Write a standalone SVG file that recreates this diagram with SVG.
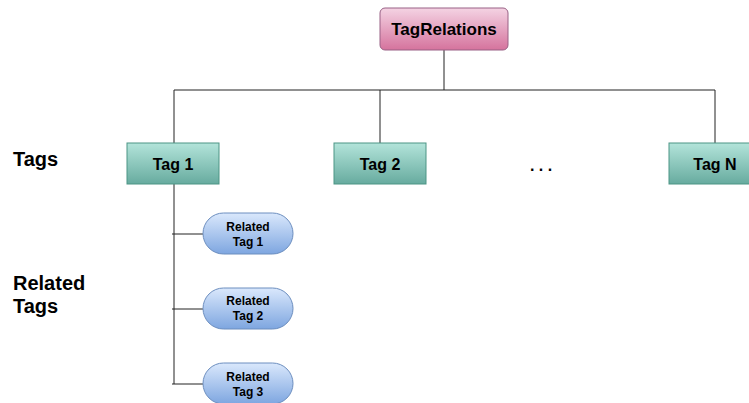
<svg xmlns="http://www.w3.org/2000/svg" width="749" height="403" viewBox="0 0 749 403">
<defs>
<linearGradient id="gPink" x1="0" y1="0" x2="0" y2="1"><stop offset="0" stop-color="#f4d3e3"/><stop offset="1" stop-color="#d5739d"/></linearGradient>
<linearGradient id="gTeal" x1="0" y1="0" x2="0" y2="1"><stop offset="0" stop-color="#b3e4da"/><stop offset="1" stop-color="#67ab9f"/></linearGradient>
<linearGradient id="gBlue" x1="0" y1="0" x2="0" y2="1"><stop offset="0" stop-color="#dae8fc"/><stop offset="1" stop-color="#7ea6e0"/></linearGradient>
</defs>
<style>
text{font-family:"Liberation Sans",Arial,sans-serif;font-weight:bold;fill:#000}
.line{stroke:#222;stroke-width:1;fill:none}
.tag{fill:url(#gTeal);stroke:#4d9585;stroke-width:1}
.rel{fill:url(#gBlue);stroke:#6c8ebf;stroke-width:1}
.t16{font-size:16px;text-anchor:middle}
.t12{font-size:12px;text-anchor:middle}
.lab{font-size:20px}
</style>
<rect width="749" height="403" fill="#fff"/>
<g id="connectors">
<path class="line" d="M444 50V90M174 90H715M174 90V143M380 90V143M715 90V143"/>
<path class="line" d="M174 184V384M172 234H203M172 309H203M172 384H203"/>
</g>
<g id="tagrelations">
<rect x="380" y="8" width="128" height="42" rx="5" fill="url(#gPink)" stroke="#996185"/>
<text x="444" y="35" style="font-size:17px;text-anchor:middle">TagRelations</text>
</g>
<g id="tag1"><rect class="tag" x="127" y="143" width="92" height="41"/><text class="t16" x="173" y="170">Tag 1</text></g>
<g id="tag2"><rect class="tag" x="334" y="143" width="92" height="41"/><text class="t16" x="380" y="170">Tag 2</text></g>
<g id="tagN"><rect class="tag" x="669" y="143" width="92" height="41"/><text class="t16" x="715" y="170">Tag N</text></g>
<g id="dots"><text class="t16" x="541" y="171">. . .</text></g>
<g id="rel1"><rect class="rel" x="203" y="213" width="90" height="41" rx="20.5"/><text class="t12" x="248" y="231">Related</text><text class="t12" x="248" y="246">Tag 1</text></g>
<g id="rel2"><rect class="rel" x="203" y="288" width="90" height="41" rx="20.5"/><text class="t12" x="248" y="305">Related</text><text class="t12" x="248" y="320">Tag 2</text></g>
<g id="rel3"><rect class="rel" x="203" y="363" width="90" height="41" rx="20.5"/><text class="t12" x="248" y="381">Related</text><text class="t12" x="248" y="396">Tag 3</text></g>
<g id="labels">
<text class="lab" x="13" y="166">Tags</text>
<text class="lab" x="13" y="290">Related</text>
<text class="lab" x="13" y="313">Tags</text>
</g>
</svg>
